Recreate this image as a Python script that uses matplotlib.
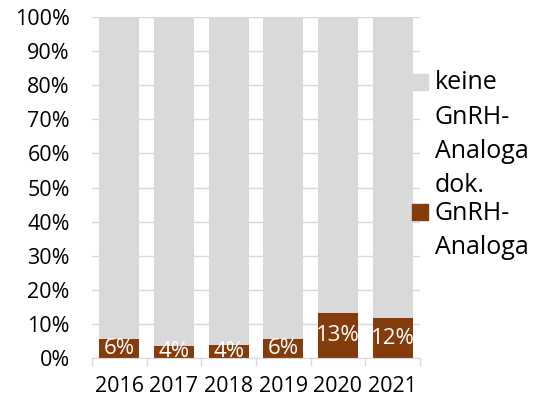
import matplotlib.pyplot as plt
from matplotlib.patches import Rectangle
import numpy as np

years = ["2016", "2017", "2018", "2019", "2020", "2021"]
gnrh = [5.6, 3.6, 3.8, 5.6, 13.2, 11.6]          # % with GnRH analogues
keine = [100 - v for v in gnrh]                  # rest: none documented

brown = "#843C0C"
grey = "#D9D9D9"

plt.rcParams['font.family'] = ['Open Sans', 'DejaVu Sans']

fig = plt.figure(figsize=(5.35, 3.99), dpi=100)
ax = fig.add_axes([92 / 535, 41 / 399, 328 / 535, 341 / 399])

x = np.arange(len(years))
w = 0.73
ax.bar(x, gnrh, width=w, color=brown, zorder=2)
ax.bar(x, keine, width=w, bottom=gnrh, color=grey, zorder=2)

for xi, v in zip(x, gnrh):
    ax.text(xi, v / 2, f"{round(v)}%", ha="center", va="center",
            color="white", fontsize=16, clip_on=True, zorder=3)

ax.set_xlim(-0.5, len(years) - 0.5)
ax.set_ylim(0, 100)
ax.set_yticks(range(0, 101, 10))
ax.set_yticklabels([f"{t}%" for t in range(0, 101, 10)], fontsize=15.5)
ax.set_xticks(x)
ax.set_xticklabels(years, fontsize=15.5)
ax.set_xticks(np.arange(-0.5, len(years)), minor=True)
ax.tick_params(axis="x", which="major", length=0, pad=13)
ax.tick_params(axis="x", which="minor", length=6, color=grey, width=1)
ax.tick_params(axis="y", length=0, pad=16)
ax.yaxis.grid(True, color=grey, linewidth=1, zorder=0)
for s in ["top", "right", "left"]:
    ax.spines[s].set_visible(False)
ax.spines["bottom"].set_color(grey)

# legend drawn by hand so the marker sits on the first text line
fig.add_artist(Rectangle((412 / 535, 1 - 90 / 399), 16 / 535, 16 / 399,
                         transform=fig.transFigure, color=grey))
fig.add_artist(Rectangle((412 / 535, 1 - 220 / 399), 16 / 535, 16 / 399,
                         transform=fig.transFigure, color=brown))
fig.text(435 / 535, 1 - 70 / 399, "keine\nGnRH-\nAnaloga\ndok.", fontsize=18,
         va="top", ha="left", linespacing=1.5)
fig.text(435 / 535, 1 - 201 / 399, "GnRH-\nAnaloga", fontsize=18,
         va="top", ha="left", linespacing=1.5)

fig.savefig("out.png", dpi=100)
